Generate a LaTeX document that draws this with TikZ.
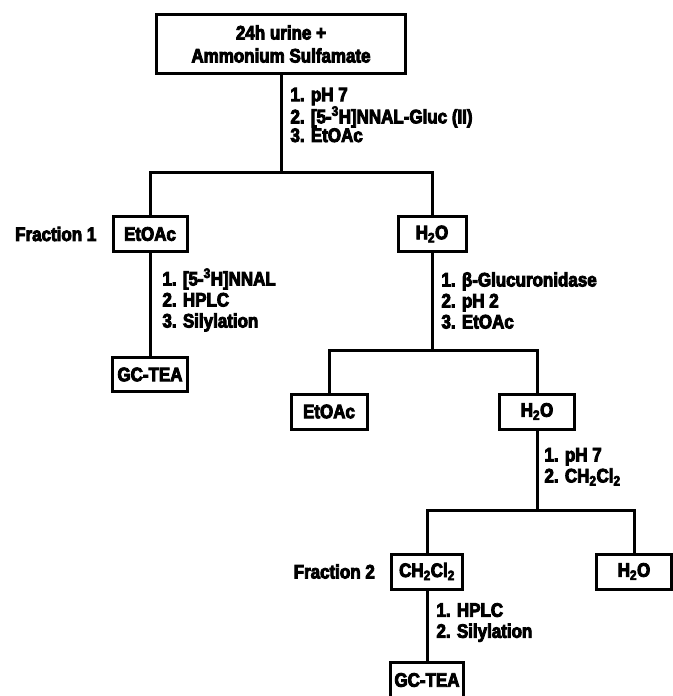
\documentclass[tikz,border=0pt]{standalone}
\usepackage{fontspec}
\setmainfont{Liberation Sans}[FakeStretch=0.87, BoldFeatures={FakeBold=4.5}]
\usetikzlibrary{positioning}

\begin{document}
\begin{tikzpicture}[
  x=1pt, y=-1pt,
  font=\fontsize{19.5}{21}\selectfont\bfseries,
  box/.style={draw, line width=3pt, minimum height=35pt, inner sep=2pt},
  frac/.style={inner sep=0pt},
  lbl/.style={align=left, right, inner sep=0pt, xshift=8pt},
  ln/.style={line width=3pt}
]
\useasboundingbox (0,0) rectangle (672,696);

\node[box, minimum width=249pt, minimum height=59pt, align=center,
      font=\fontsize{19.5}{23}\selectfont\bfseries] (urine) at (281,44)
  {24h urine +\\Ammonium Sulfamate};

\node[box, minimum width=74pt] (ea1) at (150,234) {EtOAc};
\node[box, minimum width=68pt] (aq1) at (432,234) {H\textsubscript{2}O};
\node[frac, left=15pt of ea1] (f1) {Fraction 1};
\node[box, minimum width=75pt, minimum height=34pt, below=103pt of ea1] (gc1) {GC-TEA};

\node[box, minimum width=76pt] (ea2) at (329,411.5) {EtOAc};
\node[box, minimum width=75pt] (aq2) at (537,411.5) {H\textsubscript{2}O};

\node[box, minimum width=71pt] (dcm) at (427,571.5) {CH\textsubscript{2}Cl\textsubscript{2}};
\node[box, minimum width=75pt] (aq3) at (634,571.5) {H\textsubscript{2}O};
\node[frac, left=15pt of dcm] (f2) {Fraction 2};
\node[box, minimum width=73pt, minimum height=36pt, below=70pt of dcm] (gc2) {GC-TEA};

\coordinate (j1) at (281,172);
\coordinate (j2) at (432,350);
\coordinate (j3) at (537,510);

\draw[ln] (urine) -- (j1) node[lbl, midway, yshift=8.5pt,
    font=\fontsize{19.5}{17.5}\selectfont\bfseries]
  {1. pH 7\\2. [5-\textsuperscript{3}H]NNAL-Gluc (II)\\3. EtOAc};
\draw[ln] (ea1) -- (gc1) node[lbl, midway, yshift=4.5pt, xshift=3pt]
  {1. [5-\textsuperscript{3}H]NNAL\\2. HPLC\\3. Silylation};
\draw[ln] (aq1) -- (j2) node[lbl, midway, yshift=1pt]
  {1. β-Glucuronidase\\2. pH 2\\3. EtOAc};
\draw[ln] (aq2) -- (j3) node[lbl, midway, yshift=3.5pt, xshift=-2pt]
  {1. pH 7\\2. CH\textsubscript{2}Cl\textsubscript{2}};
\draw[ln] (dcm) -- (gc2) node[lbl, midway, yshift=3pt]
  {1. HPLC\\2. Silylation};

\foreach \a/\j/\b in {ea1/j1/aq1, ea2/j2/aq2, dcm/j3/aq3}
  \draw[ln] (\a.north) |- (\j) -| (\b.north);
\end{tikzpicture}
\end{document}
